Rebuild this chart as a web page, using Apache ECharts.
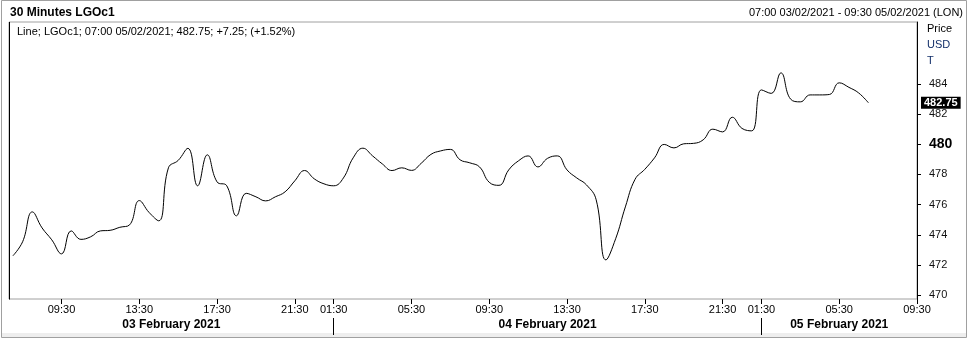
<!DOCTYPE html>
<html>
<head>
<meta charset="utf-8">
<script src="https://cdn.jsdelivr.net/npm/echarts@6/dist/echarts.min.js"></script>
<style>
html,body{margin:0;padding:0;background:#fff;}
#c{width:968px;height:340px;}
</style>
</head>
<body>
<div id="c"></div>
<script>
// Trading sessions (day, start minute, end minute) of 30-minute bars
const sessions = [['03', 7 * 60, 22 * 60 + 30], ['04', 60, 22 * 60 + 30], ['05', 60, 9 * 60 + 30]];
const tickTimes = ['09:30', '13:30', '17:30', '21:30', '01:30', '05:30'];
const dayNames = ['03 February 2021', '04 February 2021', '05 February 2021'];
const yTicks = [470, 472, 474, 476, 478, 480, 482, 484];
// Close values of the line, one per 30-minute bar from 07:00 03/02 to 07:00 05/02
const prices = [
  472.61, 473.54, 475.52, 474.46, 473.67, 472.74, 474.26, 473.70, 473.87, 474.26,
  474.30, 474.50, 474.66, 476.27, 475.49, 474.93, 478.44, 478.93, 479.73, 477.25,
  479.30, 477.51, 477.25, 475.26, 476.75, 476.52, 476.25, 476.52, 476.85, 477.58,
  478.26, 477.71, 477.38, 477.25, 477.77, 479.10, 479.74, 479.23, 478.70, 478.26,
  478.44, 478.27, 478.74, 479.33, 479.56, 479.66, 478.97, 478.77, 478.50, 477.48,
  477.28, 478.30, 478.90, 479.23, 478.50, 479.07, 479.23, 478.30, 477.77, 477.31,
  476.32, 472.34, 473.74, 475.85, 477.68, 478.34, 479.10, 479.99, 479.76, 480.03,
  480.06, 480.29, 481.00, 480.82, 481.79, 481.05, 480.89, 483.60, 483.37, 484.73,
  482.99, 482.81, 483.27, 483.27, 483.30, 484.07, 483.77, 483.40, 482.75
];

const pad = n => String(n).padStart(2, '0');
const times = [], days = [];
sessions.forEach(([d, s, e]) => {
  for (let m = s; m <= e; m += 30) {
    times.push(pad(Math.floor(m / 60)) + ':' + pad(m % 60));
    days.push(d);
  }
});
const xMin = -0.4, xMax = times.length - 1;
const tickIdx = times.map((t, i) => tickTimes.includes(t) ? i : -1).filter(i => i >= 0);
// day separators: first 01:30 of each following day
const sepIdx = [];
for (let i = 1; i < times.length; i++) {
  if (days[i] !== days[i - 1]) sepIdx.push(times.indexOf('01:30', i));
}
const edges = [xMin].concat(sepIdx, [xMax]);
const dayMid = dayNames.map((n, k) => (edges[k] + edges[k + 1]) / 2);

const FONT = 'Liberation Sans, Arial, sans-serif';
const last = prices[prices.length - 1];

const chart = echarts.init(document.getElementById('c'), null, {renderer: 'canvas'});
chart.setOption({
  animation: false,
  backgroundColor: '#fff',
  textStyle: {fontFamily: FONT},
  grid: {left: 9, right: 51, top: 22, bottom: 41, show: true, borderColor: '#a0a0a0', borderWidth: 1},
  xAxis: [{
    type: 'value', min: xMin, max: xMax, position: 'bottom',
    splitLine: {show: false},
    axisLine: {show: false, onZero: false},
    axisTick: {show: true, customValues: tickIdx, length: 5, lineStyle: {color: '#000'}},
    axisLabel: {customValues: tickIdx, margin: 5, color: '#000', fontSize: 11, fontFamily: FONT,
      formatter: v => times[Math.round(v)]}
  }, {
    type: 'value', min: xMin, max: xMax, position: 'bottom', offset: 19,
    splitLine: {show: false},
    axisLine: {show: false, onZero: false},
    axisTick: {show: true, customValues: sepIdx, length: 17, lineStyle: {color: '#000'}},
    axisLabel: {customValues: dayMid, margin: 1, color: '#000', fontSize: 12, fontWeight: 'bold', fontFamily: FONT,
      formatter: v => dayNames[dayMid.findIndex(m => Math.abs(m - v) < 1e-6)] || ''}
  }],
  yAxis: [{
    type: 'value', position: 'right', min: 469.75, max: 488.1,
    splitLine: {show: false},
    axisLine: {show: true, onZero: false, lineStyle: {color: '#000'}},
    axisTick: {show: true, customValues: yTicks, length: 4, lineStyle: {color: '#000'}},
    axisLabel: {customValues: yTicks, margin: 12, color: '#111', fontSize: 11, fontFamily: FONT,
      formatter: v => v === 480 ? '{b|480}' : String(v),
      rich: {b: {fontSize: 14, fontWeight: 'bold', color: '#000', fontFamily: FONT}}}
  }],
  series: [{
    type: 'line',
    data: prices.map((v, i) => [i, v]),
    showSymbol: false,
    smooth: 0.45,
    lineStyle: {color: '#000', width: 1},
    markLine: {
      silent: true, symbol: 'none',
      lineStyle: {color: 'rgba(0,0,0,0)', width: 1, type: 'solid'},
      data: [{yAxis: last}],
      label: {show: true, position: 'end', distance: 4, formatter: () => last.toFixed(2),
        backgroundColor: '#000', color: '#fff', fontWeight: 'bold', fontSize: 11,
        fontFamily: FONT, padding: [1, 3, 0, 3]}
    }
  }],
  graphic: [
    {type: 'rect', silent: true, shape: {x: 1.5, y: 0.5, width: 965, height: 337},
      style: {fill: 'none', stroke: '#a0a0a0', lineWidth: 1}},
    {type: 'rect', silent: true, shape: {x: 2, y: 333, width: 964, height: 4},
      style: {fill: '#eeeeee'}},
    {type: 'line', silent: true, shape: {x1: 9.5, y1: 22, x2: 9.5, y2: 299.5},
      style: {stroke: '#000', lineWidth: 1}},
    {type: 'text', x: 10, y: 13, style: {text: '30 Minutes LGOc1', font: 'bold 12px ' + FONT,
      fill: '#000', textVerticalAlign: 'middle'}},
    {type: 'text', x: 963, y: 13, style: {text: '07:00 03/02/2021 - 09:30 05/02/2021 (LON)',
      font: '11px ' + FONT, fill: '#000', textAlign: 'right', textVerticalAlign: 'middle'}},
    {type: 'text', x: 17, y: 32, style: {
      text: '{a|Line; LGOc1; 07:00 05/02/2021; 482.75; }{b|+7.25; (+1.52%)}',
      textVerticalAlign: 'middle',
      rich: {a: {fontSize: 11, fontFamily: FONT, color: '#000'}, b: {fontSize: 11, fontFamily: FONT, color: '#1c3cf0'}}}},
    {type: 'text', x: 927, y: 29, style: {text: 'Price', font: '11px ' + FONT, fill: '#000', textVerticalAlign: 'middle'}},
    {type: 'text', x: 927, y: 45, style: {text: 'USD', font: '11px ' + FONT, fill: '#14306a', textVerticalAlign: 'middle'}},
    {type: 'text', x: 927, y: 61, style: {text: 'T', font: '11px ' + FONT, fill: '#14306a', textVerticalAlign: 'middle'}}
  ]
});
</script>
</body>
</html>
